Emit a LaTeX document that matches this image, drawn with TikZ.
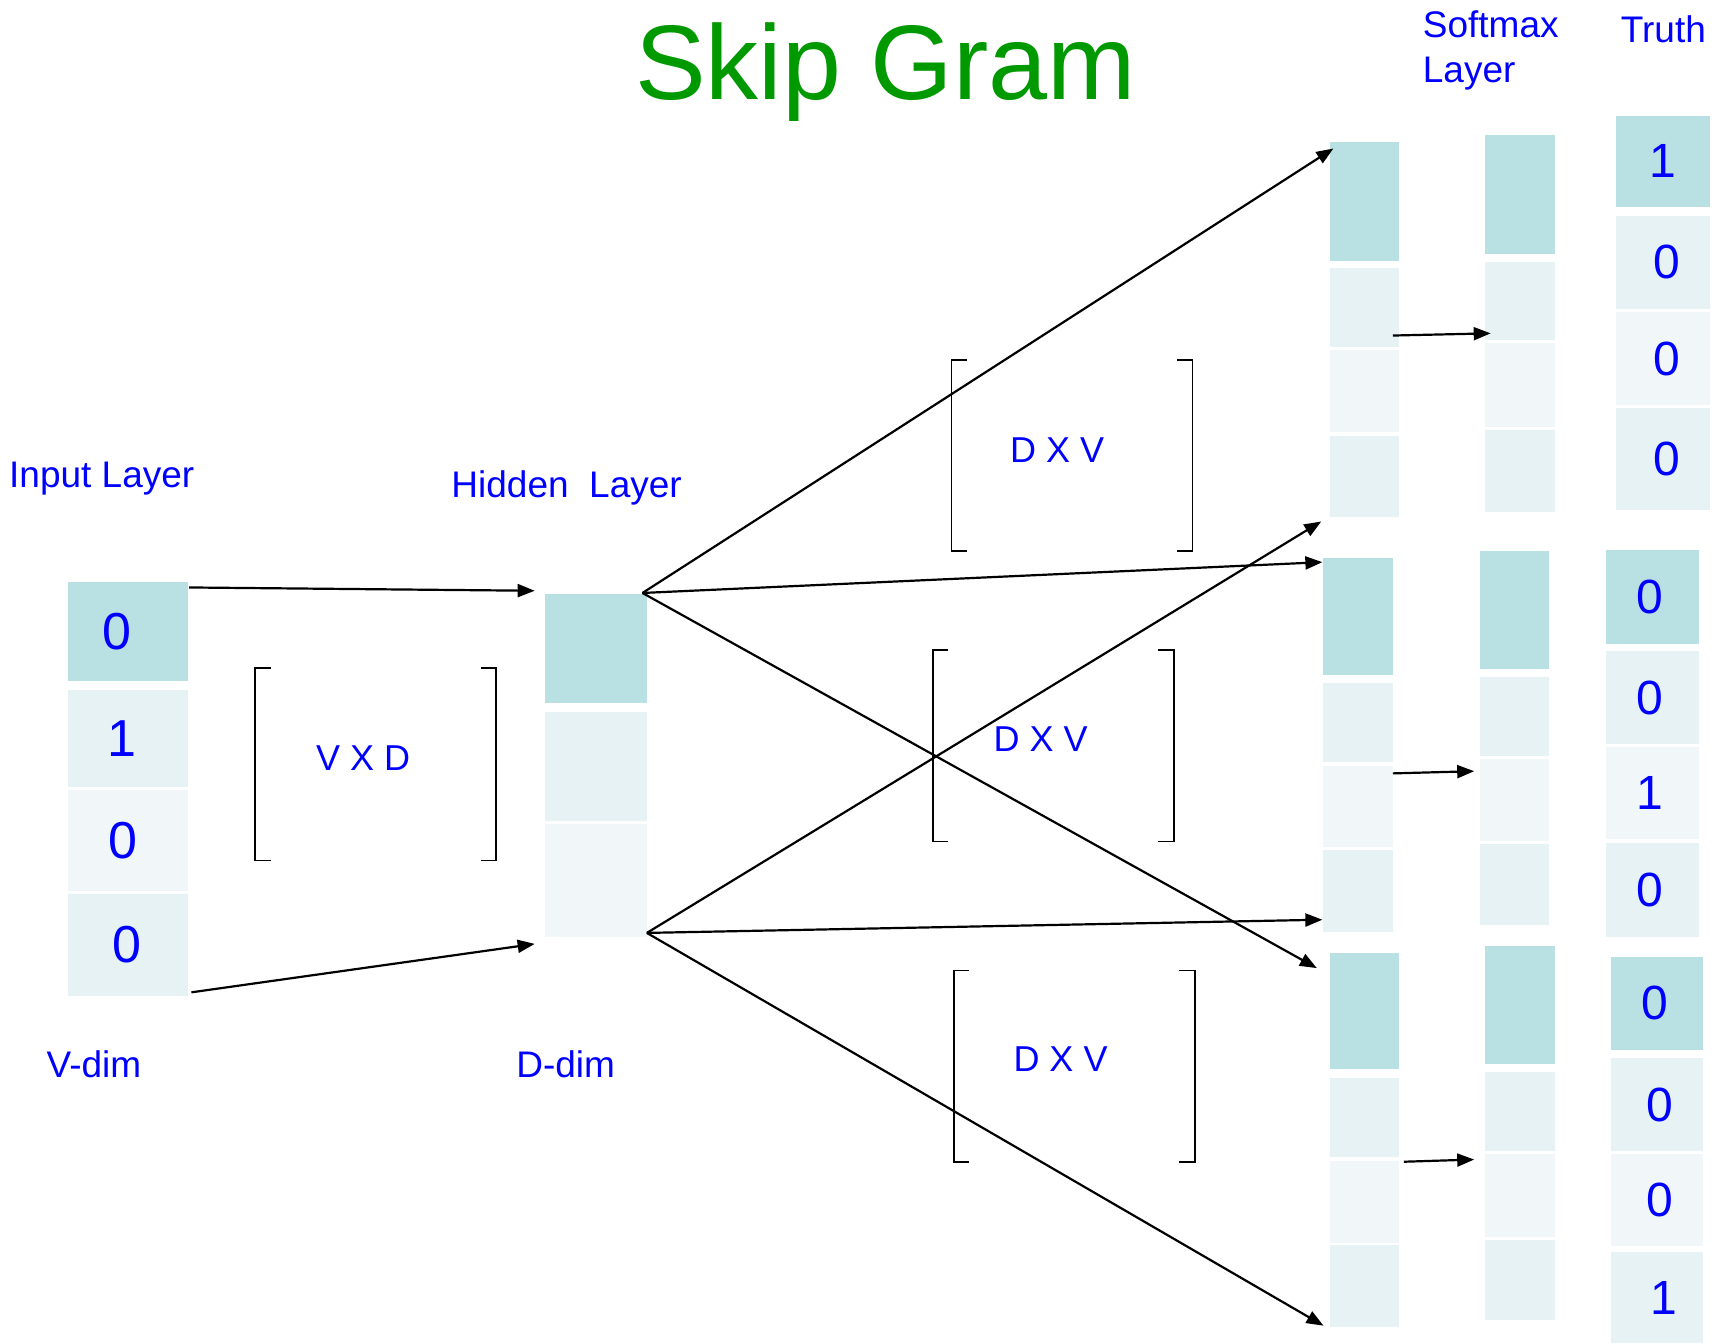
\documentclass[tikz,border=0pt]{standalone}
\usepackage{fontspec}
\setmainfont{Liberation Sans}
\usetikzlibrary{calc,arrows.meta}
\definecolor{cdark}{HTML}{B9E0E2}
\definecolor{cmed}{HTML}{E6F2F3}
\definecolor{clight}{HTML}{F1F7F9}
\definecolor{tblue}{HTML}{0000FF}
\definecolor{tgreen}{HTML}{009900}
\newcommand{\cellbox}[7]{\node[cellst, fill=#6, minimum width={0.55pt*(#4-#2)}, minimum height={0.55pt*(#5-#3)}] (#1) at ({(#2+#4)/2},{(#3+#5)/2}) {#7};}
\newcommand{\brk}[4]{\draw[brkst] (#1+14,#3) -- (#1,#3) -- (#1,#4) -- (#1+14,#4);
  \draw[brkst] (#2-14,#3) -- (#2,#3) -- (#2,#4) -- (#2-14,#4);}
\newcommand{\dg}[2]{\textcolor{tblue}{\fontsize{26}{30}\selectfont\kern#1pt #2}}
\newcommand{\td}[2]{\textcolor{tblue}{\fontsize{24}{28}\selectfont\kern#1pt #2}}
\begin{document}
\begin{tikzpicture}[x=0.55pt,y=-0.55pt,
  cellst/.style={draw=none, inner sep=0pt, outer sep=0pt},
  lbl/.style={font=\fontsize{18.5}{22}\selectfont, text=tblue, anchor=base west, inner sep=0pt},
  mat/.style={font=\fontsize{18}{21}\selectfont, text=tblue, inner sep=0pt},
  arr/.style={line width=1.1pt, -{Triangle[length=8.5pt,width=6.5pt]}},
  brkst/.style={line width=0.8pt}]
\useasboundingbox (0,0) rectangle (1568,1221);

% title and labels
\node[font=\fontsize{53}{60}\selectfont, text=tgreen, anchor=base, inner sep=0pt] (title) at (805,90) {Skip Gram};
\node[lbl] (linput) at (8,443) {Input Layer};
\node[lbl] (lhidden) at (410,452) {Hidden\ \ Layer};
\node[lbl] (lvdim) at (42,979) {V-dim};
\node[lbl] (lddim) at (469,979) {D-dim};
\node[lbl] (lsoft1) at (1293,34) {Softmax};
\node[lbl] (lsoft2) at (1293,75) {Layer};
\node[lbl] (ltruth) at (1473,39) {Truth};

% input layer
\cellbox{in1}{62}{529}{171}{619}{cdark}{\dg{-11}{0}}
\cellbox{in2}{62}{627}{171}{715}{cmed}{\dg{-6.6}{1}}
\cellbox{in3}{62}{718}{171}{810}{clight}{\dg{-5.5}{0}}
\cellbox{in4}{62}{813}{171}{905}{cmed}{\dg{-1}{0}}

% hidden layer
\cellbox{h1}{495}{540}{588}{639}{cdark}{}
\cellbox{h2}{495}{647}{588}{746}{cmed}{}
\cellbox{h3}{495}{749}{588}{852}{clight}{}

% output groups
\cellbox{ga1}{1209}{129}{1272}{237}{cdark}{}
\cellbox{ga2}{1209}{244}{1272}{315}{cmed}{}
\cellbox{ga3}{1209}{318}{1272}{393}{clight}{}
\cellbox{ga4}{1209}{396}{1272}{470}{cmed}{}
\cellbox{gb1}{1203}{507}{1266}{614}{cdark}{}
\cellbox{gb2}{1203}{621}{1266}{693}{cmed}{}
\cellbox{gb3}{1203}{696}{1266}{770}{clight}{}
\cellbox{gb4}{1203}{773}{1266}{847}{cmed}{}
\cellbox{gc1}{1209}{866}{1272}{972}{cdark}{}
\cellbox{gc2}{1209}{980}{1272}{1052}{cmed}{}
\cellbox{gc3}{1209}{1055}{1272}{1130}{clight}{}
\cellbox{gc4}{1209}{1132}{1272}{1206}{cmed}{}

% softmax
\cellbox{sa1}{1350}{123}{1413}{231}{cdark}{}
\cellbox{sa2}{1350}{238}{1413}{309}{cmed}{}
\cellbox{sa3}{1350}{312}{1413}{388}{clight}{}
\cellbox{sa4}{1350}{391}{1413}{465}{cmed}{}
\cellbox{sb1}{1345}{501}{1408}{608}{cdark}{}
\cellbox{sb2}{1345}{615}{1408}{687}{cmed}{}
\cellbox{sb3}{1345}{690}{1408}{764}{clight}{}
\cellbox{sb4}{1345}{767}{1408}{841}{cmed}{}
\cellbox{sc1}{1350}{860}{1413}{967}{cdark}{}
\cellbox{sc2}{1350}{974}{1413}{1046}{cmed}{}
\cellbox{sc3}{1350}{1049}{1413}{1124}{clight}{}
\cellbox{sc4}{1350}{1127}{1413}{1200}{cmed}{}

% truth
\cellbox{ta1}{1469}{105}{1554}{188}{cdark}{\td{0}{1}}
\cellbox{ta2}{1469}{196}{1554}{281}{cmed}{\td{4.4}{0}}
\cellbox{ta3}{1469}{284}{1554}{368}{clight}{\td{4.4}{0}}
\cellbox{ta4}{1469}{371}{1554}{464}{cmed}{\td{4.4}{0}}
\cellbox{tb1}{1460}{500}{1544}{585}{cdark}{\td{-2.2}{0}}
\cellbox{tb2}{1460}{592}{1544}{676}{cmed}{\td{-2.2}{0}}
\cellbox{tb3}{1460}{679}{1544}{763}{clight}{\td{-2.2}{1}}
\cellbox{tb4}{1460}{766}{1544}{852}{cmed}{\td{-2.2}{0}}
\cellbox{tc1}{1464}{870}{1548}{954}{cdark}{\td{-2.2}{0}}
\cellbox{tc2}{1464}{962}{1548}{1046}{cmed}{\td{3.3}{0}}
\cellbox{tc3}{1464}{1049}{1548}{1133}{clight}{\td{3.3}{0}}
\cellbox{tc4}{1464}{1138}{1548}{1221}{cmed}{\td{6.6}{1}}

% matrices
\node[mat] (mvd) at (330,689) {V X D};
\node[mat] (mdv1) at (961,409) {D X V};
\node[mat] (mdv2) at (946,672) {D X V};
\node[mat] (mdv3) at (964,963) {D X V};
\brk{232}{451}{607}{782}
\brk{865}{1084}{327}{501}
\brk{848}{1067}{591}{765}
\brk{867}{1086}{882}{1056}

% connectors
\coordinate (hT) at ($(h1.north east)+(-4,-1)$);
\coordinate (hB) at ($(h3.south east)+(0,-4)$);
\draw[arr] ($(in1.north east)+(1,5)$) -- ($(h1.north west)+(-9,-3)$);
\draw[arr] ($(in4.south east)+(3,-3)$) -- ($(h3.south west)+(-9,6)$);
\draw[arr] (hT) -- ($(ga1.north west)+(3,6)$);
\draw[arr] (hT) -- ($(gb1.north west)+(-1,4)$);
\draw[arr] (hT) -- ($(gc1.north west)+(-12,14)$);
\draw[arr] (hB) -- ($(ga4.south west)+(-8,4)$);
\draw[arr] (hB) -- ($(gb4.south west)+(-1,-11)$);
\draw[arr] (hB) -- ($(gc4.south west)+(-6,-1)$);
\draw[arr] ($(ga2.south east)+(-6,-10)$) -- ($(sa2.south west)+(5,-6)$);
\draw[arr] ($(gb3.north east)+(0,7)$) -- ($(sb3.north west)+(-5,11)$);
\draw[arr] ($(gc3.north east)+(4,1)$) -- ($(sc3.north west)+(-10,5)$);
\end{tikzpicture}
\end{document}
